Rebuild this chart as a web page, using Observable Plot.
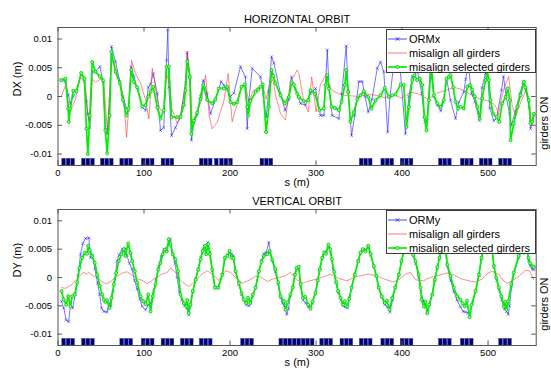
<!DOCTYPE html>
<html><head><meta charset="utf-8">
<script src="https://cdn.jsdelivr.net/npm/d3@7"></script>
<script src="https://cdn.jsdelivr.net/npm/@observablehq/plot@0.6"></script>
<style>
body{margin:0;background:#fff;font-family:"Liberation Sans",Arial,Helvetica,sans-serif;}
#wrap{position:relative;width:551px;height:368px;overflow:hidden;background:#fff;}
.panel{position:absolute;left:0;}
.legend{position:absolute;box-sizing:border-box;background:#fff;border:1px solid #3a3a3a;font-size:11px;color:#000;}
.legend .row{position:absolute;left:0;height:14px;line-height:14px;white-space:nowrap;}
.legend .row svg{position:absolute;left:0;top:0;}
.legend .row span{position:absolute;left:22px;top:0;}
</style></head><body><div id="wrap"></div>
<script>
// ---------- data (values in mm, s in m) ----------
const xTicks = [0, 100, 200, 300, 400, 500];
const yTicks = [-10, -5, 0, 5, 10];
const yTickLabels = ["-0.01", "-0.005", "0", "0.005", "0.01"];

const titlesTop = "HORIZONTAL ORBIT";
const titlesBottom = "VERTICAL ORBIT";
const legendTop = ["ORMx", "misalign all girders", "misalign selected girders"];
const legendBottom = ["ORMy", "misalign all girders", "misalign selected girders"];

// horizontal: measured ORMx
const hORMx = [[3.7,2.85],[8.7,2.6],[11.9,0.3],[14.3,-1.2],[17.7,0],[21.5,1.0],[27,4.0],[30.8,2.6],[33,-0.8],[34.7,-3.0],[37,-5.4],[39.8,4.3],[43.6,4.3],[48.6,5.2],[52.5,2.6],[55,-5.4],[57.2,-6.5],[60,-0.6],[62.2,8.7],[66.9,6.05],[71.9,2.6],[75.4,0],[79.7,-2.1],[82,-2.4],[85.1,5.2],[88.2,3.5],[92,1.5],[97.9,-1.9],[101.8,-2.4],[105,1.6],[107.7,2.2],[110.7,4.0],[115.4,0.5],[119.2,-5.9],[123,-5.4],[126.2,6.3],[127.7,11.7],[128.9,1.6],[132,-6.8],[136.6,-5.4],[142.4,-3.6],[148.3,2.3],[150.2,7.6],[153.3,3.4],[155.2,-7.6],[157.9,-4.7],[161.8,-3.2],[165.6,0],[168.8,2.8],[173.4,0.5],[177.3,-3.0],[183.1,-0.6],[189.7,2.6],[192.8,2.0],[196.7,1.2],[200.6,0],[204.5,0.6],[212.2,5.2],[218,3.4],[220,-5.6],[222,-0.6],[225.8,4.9],[235.5,3.4],[242,-3.6],[245.1,1.0],[248.3,6.9],[251,5.8],[258.7,0.5],[264,-2.4],[268.4,-0.5],[271.5,3.4],[276,1.3],[282,-1.2],[287.8,-1.5],[293.6,0.5],[299.4,1.4],[305.2,-3.3],[309.1,-3.3],[313.1,8.1],[315,1.8],[318.8,-3.3],[326.5,-3.85],[330,0.5],[335.1,8.8],[337.4,0.8],[341.3,-6.8],[345,-3.3],[349.8,2.6],[353.7,2.6],[357,0],[360.7,-2.7],[365,-0.5],[371.2,4.9],[375,6.0],[378.8,4.3],[383.3,-6.2],[386,0],[390.5,5.8],[398,4.5],[404,-6.5],[408,0],[412,3.5],[418,4.3],[423,0.5],[426.7,-4.4],[429,-4.2],[433,5.0],[437,0],[441,-1.5],[445,-2.5],[448,-1.0],[452,3.0],[456.4,-0.65],[462.2,-3.85],[466,-1.0],[471.9,0.8],[474,3.0],[477,5.5],[481,0.5],[485,-1.0],[490,-4.2],[493,1.5],[497,4.0],[499,5.5],[502,-2.0],[506.7,-4.2],[510,-3.8],[515.7,1.1],[518,3.5],[521,0],[525,-3.0],[527,-5.0],[532,-2.5],[537,0.5],[541,2.5],[544,1.0],[548,-2.0],[549.4,-5.6],[553.3,-3.3]];
// horizontal: misalign all girders
const hAll = [[3.7,0],[8.7,1.9],[12.6,-1.9],[16.3,-1.9],[20,-0.6],[25.8,3.4],[31.6,2.3],[34.7,-3.0],[37,-5.0],[39.8,3.0],[43.6,2.5],[49.4,3.0],[53.3,2.5],[56.4,-4.0],[57.5,-6.0],[62.2,6.5],[66.9,4.9],[72.7,2.3],[76.6,-0.6],[79.7,-7.1],[82,-2.4],[85.5,6.3],[90,4.0],[96,2.3],[101.8,-0.6],[105.7,-3.9],[109.6,4.9],[112,3.0],[115.4,-0.6],[119.2,-2.4],[123,-2.6],[126.2,4.0],[128.9,2.5],[132,-1.9],[138.6,-4.7],[142.4,-3.3],[148.3,2.3],[150.2,7.9],[154,3.0],[156,-4.7],[161.8,-2.9],[167,-0.6],[171.5,3.7],[176,-3.5],[179.3,-5.6],[185,-4.5],[192.8,-0.8],[197.9,4.0],[202.5,-4.4],[208,-1.5],[213,1.5],[218,2.0],[222,-1.0],[227,1.0],[232,1.5],[238,2.0],[242,-0.5],[246,2.0],[250,3.0],[253,0.2],[258.7,-3.0],[264.5,-4.1],[270.3,2.85],[274,3.5],[278,4.6],[280,4.0],[285.8,-0.8],[290.9,-2.7],[295,3.4],[300,-2.7],[305,2.0],[311,3.7],[318,1.1],[326,0.5],[334,0.2],[342,0.1],[350,0],[360,0.4],[370,0.2],[380,-0.2],[390,0.3],[400,-0.3],[410,0.8],[420,0.4],[430,-0.5],[440,0.6],[450,1.0],[460,1.6],[470,1.2],[480,0.3],[490,-0.4],[500,-0.8],[506,-1.2],[510,-2.0],[512,-3.3],[516,0],[520,2.0],[524,3.5],[528,-1.5],[532,-3.5],[538,-1.0],[544,1.0],[548,-1.0],[551,-5.0],[553.3,-3.0]];
// horizontal: misalign selected girders
const hSel = [[3.7,2.85],[8.7,3.1],[11.9,-2.1],[12.6,-4.4],[14.3,-2.1],[17.7,1.0],[21.5,0.9],[27,4.1],[30.8,3.1],[33,-5.6],[34.7,-10],[37,-3.3],[39.8,6.0],[43.6,4.3],[48.6,3.5],[52.5,2.8],[55,-5.9],[57.2,-9.9],[60,-3.3],[62.2,7.8],[66.9,4.3],[71.9,2.3],[75.4,-0.6],[79.7,-3.3],[82,-2.1],[85.1,4.6],[88.2,2.6],[92,1.6],[97.9,-1.7],[101.8,-1.5],[105,0.0],[107.7,0.9],[110.7,1.7],[115.4,-1.9],[119.2,-3.85],[123,-2.4],[126.2,5.2],[128.9,5.2],[132,-3.6],[138.6,-3.6],[142.4,-3.5],[146.3,-1.5],[148.3,1.1],[150.2,6.05],[153.3,3.4],[155.2,-6.5],[157.9,-4.2],[161.8,-2.8],[165.6,-0.4],[168.8,2.0],[173.4,-0.6],[179.3,-1.2],[183,-0.5],[187,1.4],[192.8,1.4],[196.7,1.7],[200.6,-1.0],[204.5,-1.3],[208.4,-1.0],[213.4,1.7],[217.2,2.1],[220,-1.8],[221.2,-3.3],[223.8,-0.8],[229.7,0.8],[232.8,1.2],[235.5,1.7],[238.1,2.1],[242,-6.2],[245.1,-1.8],[248.3,4.6],[250.2,3.6],[252.9,2.3],[258.7,0.2],[263.7,-1.2],[268.4,-0.1],[271.5,2.3],[274.2,2.1],[278.1,0.5],[280,-0.1],[285.8,-0.8],[290.9,-0.65],[293.6,1.1],[298.6,0.5],[304,-2.4],[309.1,-2.1],[311.1,2.0],[313.1,3.7],[315,1.4],[318,-1.8],[322,-2.0],[326.5,-2.4],[329.7,-0.9],[333.5,2.0],[335.1,4.6],[337.4,0.8],[340,-4.4],[344,-2.7],[347.9,-0.5],[351.7,0.2],[355.6,0.9],[360.7,-0.1],[364.5,-2.1],[369.2,-0.65],[375,0.2],[380,1.5],[384.7,-0.1],[388.6,0.2],[392.4,0.35],[398.3,2.1],[402,2.0],[405.2,-5.3],[408,-1.8],[411.9,2.85],[414.5,3.7],[417.6,2.85],[420.7,3.1],[423.4,2.0],[426,-3.6],[428.5,-5.9],[431.2,-0.65],[433.9,5.8],[437,0.2],[440.9,-1.2],[444.8,-1.8],[448.6,-0.65],[451.7,3.1],[454.4,3.4],[456.4,3.7],[459.5,1.6],[462.2,-0.9],[465,-2.1],[468,-1.8],[471.9,-2.1],[475.8,1.7],[478.9,2.0],[481.6,1.2],[484.3,0.0],[487.4,-1.8],[490.5,-3.85],[493.2,-0.3],[497.1,2.85],[499,4.3],[501,2.85],[502.9,-0.65],[506,-3.0],[509.9,-3.6],[513,-4.4],[516.5,-1.2],[520.3,-0.1],[523,1.4],[525.3,-0.65],[526.2,-7.6],[530,-4.7],[534,-1.8],[537.8,0.2],[541.6,2.55],[543.6,1.6],[547.4,-0.65],[549.4,-4.7],[551.4,-4.4],[553.3,-3.0]];

// vertical: measured ORMy
const vORMy = [[4.1,-4.2],[6.7,-5.4],[9.5,-7.5],[12.4,-7.8],[14.5,-4.8],[17,-5.4],[20.2,-2.9],[23.3,0.3],[26.2,4.1],[28.9,6.0],[32,6.9],[35.9,7.0],[37.8,3.5],[40,4.0],[43,1.5],[46,-1.0],[48.5,-3.0],[50.6,-5.4],[53.3,-6.0],[57,-6.1],[59,-4.5],[61.5,-5.0],[64,-2.5],[66,-0.5],[68.6,2.9],[71,4.0],[74.6,5.0],[78.3,5.1],[80,4.0],[83,2.5],[86,1.5],[89,-0.5],[92,-2.0],[95,-3.8],[97.9,-5.1],[101.8,-5.7],[105,-4.8],[108,-4.5],[111,-2.5],[114,-0.3],[117,2.0],[120,3.8],[123,5.0],[128,5.6],[130.8,6.8],[133,4.5],[136,2.5],[138.5,0],[141,-2.5],[144,-4.0],[147,-5.0],[150,-5.5],[152,-6.6],[154,-5.0],[157,-2.5],[160,-0.3],[163,1.5],[166,3.5],[168.5,5.0],[171,5.5],[174,6.2],[176.5,4.5],[179.3,1.2],[182.5,-1.8],[186.2,-1.8],[191,0.5],[194,3.2],[197,4.0],[199.5,4.6],[202,4.2],[204,3.8],[206.5,1.0],[210.3,-1.2],[213.4,-3.0],[216,-4.0],[219,-4.8],[221.9,-5.0],[224,-4.5],[226.5,-3.2],[229.7,-1.8],[233.6,1.0],[236.7,3.0],[239.3,4.2],[242,4.4],[245.1,6.2],[247,4.5],[249,3.0],[252.5,1.0],[256,-1.2],[258.7,-3.5],[261,-4.5],[263,-5.0],[266,-6.5],[268,-5.5],[270.3,-3.2],[273,-1.8],[275.5,0.5],[277.5,1.5],[280,1.7],[282,-1.5],[285,-4.0],[288,-4.5],[291,-5.2],[293.6,-5.6],[296,-4.5],[299.4,-2.7],[302,-0.5],[304.4,1.4],[307.2,3.3],[309.5,4.3],[312,4.6],[314.5,5.6],[317,4.3],[320,1.5],[323,-1.0],[326,-2.6],[329,-4.0],[331.5,-5.0],[334,-5.2],[336.5,-5.4],[339,-3.6],[341.3,-1.8],[345.1,0.5],[349,2.9],[352,4.3],[355,4.9],[358,4.9],[360.7,5.4],[363.5,4.0],[367.2,2.0],[370,0.3],[373,-1.8],[376.5,-3.5],[380,-4.8],[383,-5.2],[386,-6.1],[389,-4.0],[392,-1.8],[396.3,0.5],[399.4,2.8],[402.1,4.5],[405,5.5],[410,5.0],[413,3.8],[415.7,2.5],[419.5,0],[422,-2.5],[425,-4.2],[428,-5.2],[430,-5.8],[432,-4.8],[435,-3.0],[438,-0.5],[441,1.7],[443.6,3.3],[446.5,5.3],[449,6.0],[452.6,2.0],[456.4,-0.5],[460.2,-2.5],[464,-4.0],[468,-5.2],[471,-6.0],[474,-6.1],[477,-6.3],[479,-6.2],[482,-4.5],[485.5,-2.4],[489.4,0.4],[492.4,3.3],[495,5.2],[498,6.0],[502,5.5],[505,4.5],[507,1.8],[510,-0.5],[513,-2.2],[516,-4.0],[519,-5.5],[521.5,-6.0],[523.5,-6.5],[525,-5.0],[527.5,-1.5],[530,0.6],[535.7,3.5],[539,4.8],[541.6,4.5],[544.5,5.3],[547,3.0],[549,2.0],[551.4,1.5],[553.3,1.4]];
// vertical: misalign all girders
const vAll = [[4.1,-1.8],[8.7,-1.9],[12.4,-1.6],[16.5,-1.2],[20.2,-0.5],[26,0.4],[29.9,0.9],[33.9,0.6],[35.9,0.9],[39.8,0.4],[43.6,0.1],[49.4,-0.5],[55.2,-1.1],[61,-0.8],[66.9,0.1],[72.7,0.6],[76.6,0.9],[80.5,1.0],[86.2,0.4],[92,-0.2],[97.9,-0.5],[103.7,-1.1],[109.6,-0.5],[115.4,0.1],[121.3,0.6],[127.1,0.9],[130.8,1.7],[136.6,0.9],[142.4,-0.5],[147,-1.1],[152.2,-1.6],[160,-0.5],[167.6,0.6],[173.4,1.2],[179.3,0.6],[187,-0.5],[194.8,1.2],[200.6,0.9],[206.4,0],[214.2,-1.0],[221.9,-0.5],[229.7,0.2],[235.5,0.1],[243.3,-0.7],[249.1,-0.3],[256.8,0],[264.5,0.3],[270.3,0.9],[278.1,-0.5],[285,-1.0],[292,-0.6],[301,-0.3],[310,0.2],[317,0.6],[327,-0.2],[336,-0.6],[345,0.1],[352,0.3],[360,0.6],[370,0.3],[380,-0.3],[390,-0.8],[397,-0.3],[404,0.6],[410,0.9],[415.7,-0.4],[425,-0.6],[431,-0.1],[439,0.25],[445,0.5],[452.6,0.8],[460,0.5],[468,-0.2],[478,-0.6],[485,-0.8],[493,-0.3],[499.9,0.8],[505,1.1],[512.6,0.5],[518,-0.6],[522.3,-1.0],[528,-0.6],[535.7,0.2],[541.6,1.0],[544,1.3],[547.4,1.2],[549.4,0.8],[553.3,-0.4]];
// vertical: misalign selected girders
const vSel = [[4.1,-2.4],[6.7,-3.9],[9.5,-4.8],[11.9,-3.3],[14.5,-5.1],[16.5,-3.3],[19.5,-3.0],[22.3,-0.9],[25,1.7],[28.1,3.5],[31.2,4.4],[33.9,4.2],[35.1,5.6],[37,4.8],[39.8,3.8],[42.8,2.6],[45.6,0.5],[48.6,-1.5],[51.4,-3.0],[53.3,-3.9],[55,-4.3],[57,-4.0],[59.9,-5.4],[62.2,-3.6],[64.9,-1.2],[67.7,0.8],[70.7,2.9],[73.8,4.1],[76.5,5.0],[78.3,3.8],[81.6,6.0],[84.3,4.3],[86.2,2.9],[89.3,1.1],[92.1,-0.9],[95.9,-3.3],[99,-4.2],[101.8,-4.7],[104.9,-3.0],[107.6,-6.0],[110.3,-3.3],[113.4,-1.2],[116.5,1.4],[119.2,2.6],[121.9,4.1],[124.2,4.9],[126.5,4.6],[128.8,6.75],[130.8,5.9],[133.5,4.1],[136.6,3.2],[139.7,1.1],[142.4,-3.0],[146.3,-4.5],[149,-5.1],[150.2,-4.0],[152,-6.3],[153.9,-4.8],[156.7,-2.4],[159.9,-0.4],[163,1.4],[165.7,3.2],[168.4,4.7],[170.7,5.6],[172.3,4.1],[174.7,5.9],[176.6,4.1],[179.3,1.4],[182.5,-1.8],[186.2,-1.8],[191,0.5],[194,3.5],[196.8,3.8],[199.4,4.7],[201.7,3.5],[204,3.4],[206.4,1.1],[210.3,-1.0],[213.4,-2.7],[216,-3.9],[218.7,-4.5],[221,-3.6],[223.5,-4.5],[226.5,-3.0],[229.7,-1.8],[233.6,1.1],[236.7,2.8],[239.3,3.8],[243.3,4.1],[245.9,4.7],[249,3.2],[252.5,1.5],[256,-0.9],[258.7,-3.3],[262.6,-4.2],[264.5,-5.7],[267,-4.4],[270.3,-3.0],[273,-1.8],[275.5,0.5],[277.5,1.7],[280,1.9],[282,-1.2],[284.7,-3.6],[287.5,-3.4],[290.9,-4.8],[293.6,-5.4],[296,-4.2],[299.4,-2.7],[302,-0.5],[304.4,1.5],[307.2,3.5],[309.5,4.4],[311.5,4.2],[314.5,5.8],[316.5,5.0],[318.5,3.2],[321,1.0],[323.5,-0.8],[325.7,-2.4],[328.5,-3.6],[331.3,-4.8],[333.5,-4.2],[336.3,-5.1],[338.5,-3.8],[341.3,-1.8],[345.1,0.5],[349,2.9],[351.7,4.4],[354.5,5.0],[357.5,4.6],[360.7,5.6],[363.5,4.2],[367.2,2.0],[370,0.3],[373,-1.8],[376.5,-3.3],[380,-4.5],[382.5,-4.1],[385.5,-5.7],[388.6,-3.6],[392,-1.8],[396.3,0.5],[399.4,2.9],[402.1,4.7],[405,5.8],[408,5.5],[410,5.0],[413,4.0],[415.7,2.9],[419.5,0.5],[421.5,-1.8],[422.7,-3.9],[425.4,-5.1],[427.3,-4.3],[429.3,-6.3],[431.5,-4.8],[435.1,-3.0],[438.1,-0.4],[441,1.8],[443.6,3.5],[446.5,5.5],[449,6.2],[451,5.0],[452.6,2.3],[456.4,0.25],[460.2,-1.8],[464.1,-3.3],[468,-3.9],[470.5,-4.6],[473,-5.1],[475.5,-4.1],[478.5,-7.0],[481,-4.8],[485.5,-2.4],[489.4,0.5],[492.4,3.5],[495,5.5],[498,6.0],[501.5,5.8],[504.9,4.7],[506.8,2.0],[509.5,0],[512.6,-1.8],[515.5,-3.3],[518.4,-5.1],[520,-4.3],[521.5,-5.7],[523.5,-4.2],[527,-1.2],[530,0.9],[535.7,3.8],[539,5.0],[541.6,4.4],[544.5,5.5],[547,3.5],[549,2.5],[551.4,2.0],[553.3,1.9]];

// girders switched ON (start position of each girder, m)
const girdersH = [5,10.2,15.4, 28,33.2,38.4, 50,55.2,60.4, 72.5,77.7,82.9, 97.5,102.7,107.9, 120.5,125.7,130.9, 165,170.2,175.4,182.5,188.5,193.7,198.9, 235.5,240.7,245.9, 351,356.2,361.4, 376,381.2,386.4, 398.5,403.7,408.9, 443,448.2,453.4, 468.5,473.7,478.9, 490.5,495.7,500.9, 513,518.2,523.4];
const girdersV = [5,10.2,15.4, 28,33.2,38.4, 72.5,77.7,82.9, 97.5,102.7,107.9, 120.5,125.7,130.9, 143,148.2,153.4, 165,170.2,175.4, 213,218.2,223.4, 257.5,262.7,267.9,273.1,278.3,283.5,288.7,293.9, 305,310.2,315.4, 328.5,333.7,338.9, 351,356.2,361.4, 376,381.2,386.4, 398.5,403.7,408.9, 443,448.2,453.4, 468.5,473.7,478.9, 513,518.2,523.4];

// ---------- drawing ----------
const W = 551, ML = 57.5, MR = 15.3;
const FW = W - ML - MR;
const FONT = '"Liberation Sans", Arial, Helvetica, sans-serif';
const BLUE = "#1a1aff", RED = "#ff2020", GREEN = "#00f000", AXC = "#555";

function panel({top, height, mt, mb, title, ylab, orm, all, sel, girders}) {
  const FH = height - mt - mb;
  const X = d => d[0], Y = d => d[1];
  const chart = Plot.plot({
    width: W, height, marginLeft: ML, marginRight: MR, marginTop: mt, marginBottom: mb,
    x: {domain: [0, 556], label: null},
    y: {domain: [-12, 12], label: null},
    style: {background: "transparent", overflow: "visible", fontFamily: FONT, fontSize: "9.5px", color: "#000"},
    marks: [
      Plot.rect(girders, {x1: d => d, x2: d => d + 4.3, y1: -12, y2: -10.85, fill: "#000078", stroke: "#2a3590", strokeWidth: 0.4}),
      Plot.line(orm, {x: X, y: Y, stroke: BLUE, strokeWidth: 0.75, strokeOpacity: 0.8}),
      Plot.dot(orm, {x: X, y: Y, symbol: "times", r: 1.5, stroke: BLUE, strokeWidth: 0.6, strokeOpacity: 0.8}),
      Plot.line(all, {x: X, y: Y, stroke: RED, strokeWidth: 0.7, strokeOpacity: 0.75}),
      Plot.line(sel, {x: X, y: Y, stroke: GREEN, strokeWidth: 1.7}),
      Plot.dot(sel, {x: X, y: Y, r: 1.5, stroke: "#00d000", strokeWidth: 0.9, fill: "#8cff8c"}),
      Plot.frame({stroke: AXC, strokeWidth: 1}),
      Plot.ruleX(xTicks, {insetTop: FH - 4.5, stroke: AXC}),
      Plot.ruleX(xTicks, {insetBottom: FH - 4.5, stroke: AXC}),
      Plot.ruleY(yTicks, {insetRight: FW - 4.5, stroke: AXC}),
      Plot.ruleY(yTicks, {insetLeft: FW - 4.5, stroke: AXC}),
      Plot.axisX(xTicks, {tickSize: 0, tickPadding: 4, label: null}),
      Plot.axisY(yTicks, {tickSize: 0, tickPadding: 6, label: null, tickFormat: d => yTickLabels[yTicks.indexOf(d)]}),
      Plot.text([title], {text: d => d, frameAnchor: "top", dy: -12, fontSize: 11}),
      Plot.text(["s (m)"], {text: d => d, frameAnchor: "bottom", dy: 20, fontSize: 11}),
      Plot.text([ylab], {text: d => d, frameAnchor: "left", dx: -40.5, rotate: -90, fontSize: 11}),
      Plot.text(["girders ON"], {text: d => d, frameAnchor: "right", dx: 8.5, rotate: -90, fontSize: 11})
    ]
  });
  chart.classList.add("panel");
  chart.style.top = top + "px";
  chart.style.position = "absolute";
  return chart;
}

function legend(top, labels) {
  const div = document.createElement("div");
  div.className = "legend";
  Object.assign(div.style, {left: "386px", top: top + "px", width: "150px", height: "44px"});
  const samples = [
    `<line x1="1" y1="7" x2="20" y2="7" stroke="${BLUE}" stroke-width="0.8"/><path d="M8.8,5.3L12.2,8.7M12.2,5.3L8.8,8.7" stroke="${BLUE}" stroke-width="0.8"/>`,
    `<line x1="1" y1="7" x2="20" y2="7" stroke="${RED}" stroke-width="0.8" stroke-opacity="0.75"/>`,
    `<line x1="1" y1="7" x2="20" y2="7" stroke="${GREEN}" stroke-width="1.7"/><circle cx="10.5" cy="7" r="1.6" stroke="#00d000" stroke-width="0.9" fill="#8cff8c"/>`
  ];
  labels.forEach((lab, i) => {
    const row = document.createElement("div");
    row.className = "row";
    row.style.top = (1.5 + i * 14) + "px";
    row.innerHTML = `<svg width="22" height="14">${samples[i]}</svg><span>${lab}</span>`;
    div.appendChild(row);
  });
  return div;
}

const wrap = document.getElementById("wrap");
wrap.appendChild(panel({top: 0, height: 188, mt: 27, mb: 23, title: titlesTop, ylab: "DX (m)", orm: hORMx, all: hAll, sel: hSel, girders: girdersH}));
wrap.appendChild(panel({top: 188, height: 180, mt: 21, mb: 23, title: titlesBottom, ylab: "DY (m)", orm: vORMy, all: vAll, sel: vSel, girders: girdersV}));
wrap.appendChild(legend(29, legendTop));
wrap.appendChild(legend(210, legendBottom));
</script>
</body></html>
